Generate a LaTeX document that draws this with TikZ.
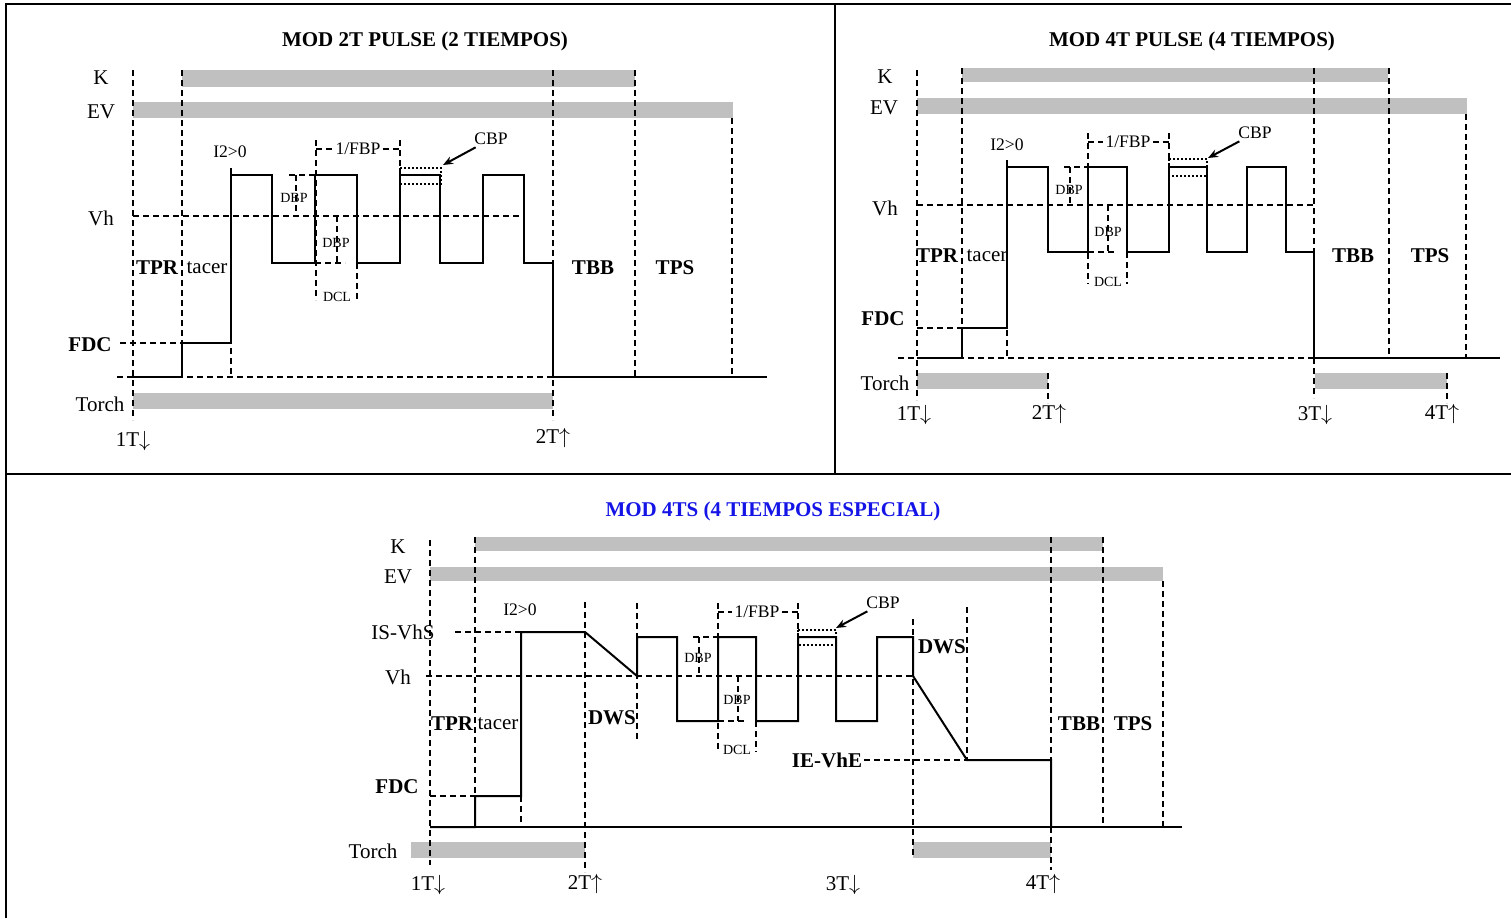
\documentclass[tikz,border=0pt]{standalone}
\usepackage{fontspec}
\setmainfont{Liberation Serif}
\usepackage{tikz}
\usetikzlibrary{arrows.meta}
\definecolor{barg}{HTML}{C0C0C0}
\definecolor{ttlblue}{HTML}{1414E6}

\begin{document}
\begin{tikzpicture}[x=0.5pt,y=-0.5pt,
  every node/.style={font=\fontsize{10.5}{12}\selectfont,inner sep=1pt},
  bl/.style={font=\bfseries\fontsize{10.5}{12}\selectfont},
  sm/.style={font=\fontsize{8.8}{10}\selectfont},
  tn/.style={font=\fontsize{7}{8}\selectfont},
  bar/.style={fill=barg},
  guide/.style={dash pattern=on 3pt off 2pt,line width=0.9pt},
  sig/.style={line width=0.8pt},
  cbpbox/.style={densely dotted,line width=1pt},
  frame/.style={line width=1.4pt},
  arr/.style={-{Stealth[length=5pt,width=4pt]},line width=1pt}]
  \useasboundingbox (0,0) rectangle (1511,918);
  % frame of the three panels
  \draw[frame] (6,918) -- (6,4) -- (1511,4);
  \draw[frame] (6,474) -- (1511,474);
  \draw[frame] (835,4) -- (835,474);

  % ---- MOD 2T ----
  \begin{scope}
    \node[bl] (t2) at (425,41) {MOD 2T PULSE (2 TIEMPOS)};
    \fill[bar] (182,70) rectangle (635,87);
    \fill[bar] (133,102) rectangle (733,118);
    \fill[bar] (133,393) rectangle (553,409);
    \node (k2) at (101,78) {K};
    \node (ev2) at (101,112) {EV};
    \node (vh2) at (101,218) {Vh};
    \node[bl] (fdc2) at (90,345) {FDC};
    \node (tor2) at (100,404) {Torch};
    \foreach \x/\a/\b in {133/70/420, 182/70/377, 231/168/377, 553/70/420, 635/70/377, 732/118/377, 400/140/263}
      \draw[guide] (\x,\a) -- (\x,\b);
    \draw[guide] (133,216) -- (523,216);
    \draw[guide] (117,377) -- (553,377);
    \draw[guide] (120,343) -- (182,343);
    \draw[sig] (133,377) -- (182,377) -- (182,343) -- (231,343) -- (231,175) -- (272,175) -- (272,263)
      -- (315,263) -- (315,175) -- (357,175) -- (357,263) -- (400,263) -- (400,175) -- (440,175)
      -- (440,263) -- (483,263) -- (483,175) -- (524,175) -- (524,263) -- (553,263) -- (553,377) -- (767,377);
    % DBP / DCL / 1/FBP / CBP
    \draw[guide] (289,175) -- (315,175) (296,175) -- (296,216);
    \node[tn] (dbpa2) at (294,198) {DBP};
    \draw[guide] (337,216) -- (337,263) (315,263) -- (345,263);
    \node[tn] (dbpb2) at (336,243) {DBP};
    \draw[guide] (316,140) -- (316,300) (357,263) -- (357,300);
    \node[tn] (dcl2) at (337,297) {DCL};
    \node[sm] (fbp2) at (358,149) {1/FBP};
    \draw[guide] (316,149) -- (fbp2.west) (fbp2.east) -- (400,149);
    \draw[cbpbox] (400,168) rectangle (441,184);
    \node[sm] (cbp2) at (491,139) {CBP};
    \coordinate (cb2) at (443,165);
    \draw[arr] (cbp2) -- (cb2);
    \node[sm] (i22) at (230,152) {I2>0};
    \node[bl] (tpr2) at (157,268) {TPR};
    \node (tac2) at (207,268) {tacer};
    \node[bl] (tbb2) at (593,268) {TBB};
    \node[bl] (tps2) at (675,268) {TPS};
    \node (a2) at (133,441) {1T$\downarrow$};
    \node (b2) at (553,438) {2T$\uparrow$};
  \end{scope}

  % ---- MOD 4T ----
  \begin{scope}
    \node[bl] (t4) at (1192,41) {MOD 4T PULSE (4 TIEMPOS)};
    \fill[bar] (962,68) rectangle (1388,82);
    \fill[bar] (917,98) rectangle (1467,114);
    \fill[bar] (917,373) rectangle (1048,389);
    \fill[bar] (1315,373) rectangle (1447,389);
    \node (k4) at (885,77) {K};
    \node (ev4) at (884,108) {EV};
    \node (vh4) at (885,208) {Vh};
    \node[bl] (fdc4) at (883,319) {FDC};
    \node (tor4) at (885,383) {Torch};
    \foreach \x/\a/\b in {917/70/400, 962/68/358, 1007/160/358, 1314/68/398, 1389/68/358, 1466/114/358,
                          1048/373/403, 1447/373/403, 1169/133/252}
      \draw[guide] (\x,\a) -- (\x,\b);
    \draw[guide] (917,205) -- (1314,205);
    \draw[guide] (898,358) -- (1314,358);
    \draw[guide] (917,328) -- (962,328);
    \draw[sig] (917,358) -- (962,358) -- (962,328) -- (1007,328) -- (1007,167) -- (1048,167) -- (1048,252)
      -- (1088,252) -- (1088,167) -- (1127,167) -- (1127,252) -- (1169,252) -- (1169,167) -- (1207,167)
      -- (1207,252) -- (1247,252) -- (1247,167) -- (1286,167) -- (1286,252) -- (1314,252) -- (1314,358) -- (1500,358);
    \draw[guide] (1064,167) -- (1088,167) (1070,167) -- (1070,205);
    \node[tn] (dbpa4) at (1069,190) {DBP};
    \draw[guide] (1108,205) -- (1108,252) (1088,252) -- (1116,252);
    \node[tn] (dbpb4) at (1108,232) {DBP};
    \draw[guide] (1088,133) -- (1088,284) (1127,252) -- (1127,284);
    \node[tn] (dcl4) at (1108,282) {DCL};
    \node[sm] (fbp4) at (1128,142) {1/FBP};
    \draw[guide] (1088,142) -- (fbp4.west) (fbp4.east) -- (1169,142);
    \draw[cbpbox] (1169,159) rectangle (1207,176);
    \node[sm] (cbp4) at (1255,133) {CBP};
    \coordinate (cb4) at (1208,158);
    \draw[arr] (cbp4) -- (cb4);
    \node[sm] (i24) at (1007,145) {I2>0};
    \node[bl] (tpr4) at (937,256) {TPR};
    \node (tac4) at (987,256) {tacer};
    \node[bl] (tbb4) at (1353,256) {TBB};
    \node[bl] (tps4) at (1430,256) {TPS};
    \node (a4) at (914,415) {1T$\downarrow$};
    \node (b4) at (1049,414) {2T$\uparrow$};
    \node (c4) at (1315,415) {3T$\downarrow$};
    \node (d4) at (1442,414) {4T$\uparrow$};
  \end{scope}

  % ---- MOD 4TS ----
  \begin{scope}
    \node[bl,text=ttlblue] (ts) at (773,511) {MOD 4TS (4 TIEMPOS ESPECIAL)};
    \fill[bar] (475,537) rectangle (1103,551);
    \fill[bar] (430,567) rectangle (1163,581);
    \fill[bar] (411,842) rectangle (585,858);
    \fill[bar] (913,842) rectangle (1051,858);
    \node (ks) at (398,547) {K};
    \node (evs) at (398,577) {EV};
    \node (iss) at (403,632) {IS-VhS};
    \node (vhs) at (398,677) {Vh};
    \node[bl] (fdcs) at (397,787) {FDC};
    \node (tors) at (373,851) {Torch};
    \foreach \x/\a/\b in {430/540/865, 475/537/827, 521/796/827, 585/602/872, 637/603/742, 913/619/858,
                          967/607/760, 1051/537/870, 1103/537/827, 1163/581/827, 798/603/721}
      \draw[guide] (\x,\a) -- (\x,\b);
    \draw[guide] (455,632) -- (521,632);
    \draw[guide] (426,676) -- (913,676);
    \draw[guide] (430,796) -- (475,796);
    \draw[sig] (430,827) -- (1182,827);
    \draw[sig,line width=1pt] (430,827) -- (475,827) -- (475,796) -- (521,796) -- (521,632) -- (585,632)
      -- (637,676) -- (637,637) -- (677,637) -- (677,721) -- (718,721) -- (718,637) -- (756,637)
      -- (756,721) -- (798,721) -- (798,637) -- (836,637) -- (836,721) -- (877,721) -- (877,637)
      -- (913,637) -- (913,676) -- (967,760) -- (1051,760) -- (1051,827);
    \draw[guide] (693,637) -- (718,637) (699,637) -- (699,676);
    \node[tn] (dbpas) at (698,658) {DBP};
    \draw[guide] (738,676) -- (738,721) (718,721) -- (745,721);
    \node[tn] (dbpbs) at (737,700) {DBP};
    \draw[guide] (718,603) -- (718,752) (756,721) -- (756,752);
    \node[tn] (dcls) at (737,750) {DCL};
    \node[sm] (fbps) at (757,612) {1/FBP};
    \draw[guide] (718,612) -- (fbps.west) (fbps.east) -- (798,612);
    \draw[cbpbox] (798,630) rectangle (836,645);
    \node[sm] (cbps) at (883,603) {CBP};
    \coordinate (cbs) at (836,628);
    \draw[arr] (cbps) -- (cbs);
    \node[sm] (i2s) at (520,610) {I2>0};
    \node[bl] (tprs) at (452,724) {TPR};
    \node (tacs) at (498,724) {tacer};
    \node[bl] (dwsa) at (612,718) {DWS};
    \node[bl] (dwsb) at (942,647) {DWS};
    \node[bl] (ie) at (827,760) {IE-VhE};
    \coordinate (iend) at (967,760);
    \draw[guide] (ie.east) -- (iend);
    \node[bl] (tbbs) at (1079,724) {TBB};
    \node[bl] (tpss) at (1133,724) {TPS};
    \node (as) at (428,885) {1T$\downarrow$};
    \node (bs) at (585,884) {2T$\uparrow$};
    \node (cs) at (843,885) {3T$\downarrow$};
    \node (ds) at (1043,884) {4T$\uparrow$};
  \end{scope}
\end{tikzpicture}
\end{document}
